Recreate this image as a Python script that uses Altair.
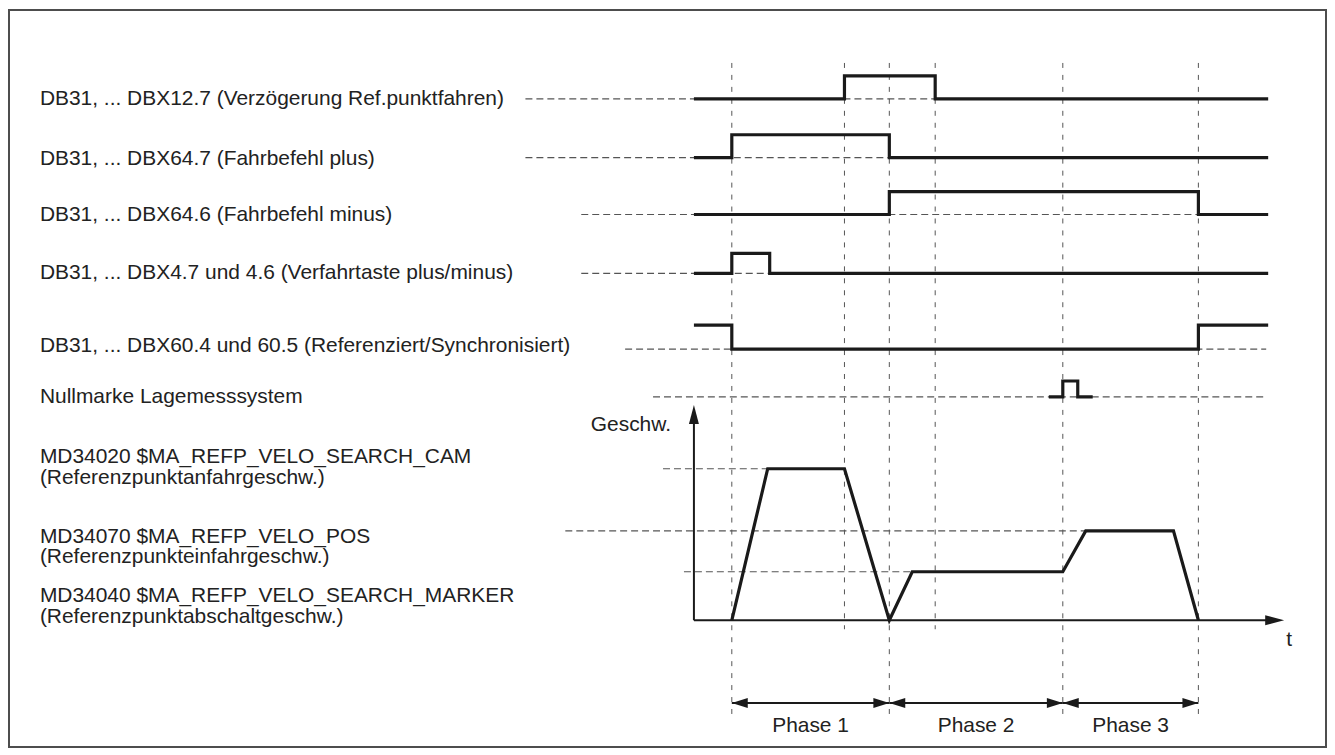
import altair as alt
import pandas as pd

# ---------------- data ----------------
# time axis (arbitrary units, t = 0 where the signal traces begin)
event_times = [38, 151, 196, 242, 370, 506]          # dashed vertical markers
event_long = [True, False, True, False, True, True]  # reaches down to phase arrows
t_end = 576

signal_labels = [
    "DB31, ... DBX12.7 (Verzögerung Ref.punktfahren)",
    "DB31, ... DBX64.7 (Fahrbefehl plus)",
    "DB31, ... DBX64.6 (Fahrbefehl minus)",
    "DB31, ... DBX4.7 und 4.6 (Verfahrtaste plus/minus)",
    "DB31, ... DBX60.4 und 60.5 (Referenziert/Synchronisiert)",
    "Nullmarke Lagemesssystem",
]
signal_times = [
    [0, 151, 242, 576],
    [0, 38, 196, 576],
    [0, 196, 506, 576],
    [0, 38, 76, 576],
    [0, 38, 506, 576],
    [356, 370, 385, 400],
]
signal_states = [
    [0, 1, 0, 0],
    [0, 1, 0, 0],
    [0, 1, 0, 0],
    [0, 1, 0, 0],
    [1, 0, 1, 1],
    [0, 1, 0, 0],
]

# velocity profile (units: CAM speed = 100)
vel_times = [38, 74, 151, 196, 219, 370, 393, 481, 506]
vel_values = [0, 100, 100, 0, 32, 32, 59, 59, 0]
vel_levels = [100, 59, 32]
vel_labels = ["MD34020 $MA_REFP_VELO_SEARCH_CAM\n(Referenzpunktanfahrgeschw.)",
              "MD34070 $MA_REFP_VELO_POS\n(Referenzpunkteinfahrgeschw.)",
              "MD34040 $MA_REFP_VELO_SEARCH_MARKER\n(Referenzpunktabschaltgeschw.)"]

phase_names = ["Phase 1", "Phase 2", "Phase 3"]
phase_bounds = [38, 196, 370, 506]

# ---------------- layout (pixels of the reference) ----------------
LEFT, TOP, RIGHT, BOTTOM = 9, 9, 1330, 748
T0_PX = 696
W, H = RIGHT - LEFT, BOTTOM - TOP
FS = 21
FONT = "Liberation Sans"
INK = "#1a1a1a"
TXT = "#222222"
DASH = "#555555"

lane_low = [98, 157, 214, 273, 349, 397]
lane_amp = [23, 23, 23, 20, 24, 16]
label_y = [98, 158, 215, 273, 346, 397]
dash_from_t = [-169, -169, -113, -113, -69, -41]
dash_to_t = 574
label_t = 40 - T0_PX

vel_zero_row = 621
vel_px = 1.52
vel_ref_from_t = [-31, -129, -10]
vel_label_top = [446, 526, 586]
vel_axis_top = 142
t_axis_tip = 592

XS = alt.Scale(domain=[LEFT - T0_PX, RIGHT - T0_PX], nice=False, zero=False)
RS = alt.Scale(domain=[TOP, BOTTOM], reverse=True, nice=False, zero=False)
d0 = (vel_zero_row - BOTTOM) / vel_px
VS = alt.Scale(domain=[d0, d0 + H / vel_px], nice=False, zero=False)


def X(f="t"):
    return alt.X(f"{f}:Q", scale=XS, axis=None)


def YR(f="y"):
    return alt.Y(f"{f}:Q", scale=RS, axis=None)


def YV(f="v"):
    return alt.Y(f"{f}:Q", scale=VS, axis=None)


# ---- tables ----
sig_rows = []
for i, (ts, ss) in enumerate(zip(signal_times, signal_states)):
    for t, s in zip(ts, ss):
        sig_rows.append({"sig": i, "t": t, "y": lane_low[i] - s * lane_amp[i]})
sig_df = pd.DataFrame(sig_rows)

base_df = pd.DataFrame({"t": dash_from_t, "t2": [dash_to_t] * 6, "y": lane_low})
lab_df = pd.DataFrame({"t": [label_t] * 6, "y": label_y, "text": signal_labels})

ev_df = pd.DataFrame({"t": event_times, "y": [62] * 6,
                      "y2": [718 if l else 630 for l in event_long]})

vel_df = pd.DataFrame({"t": vel_times, "v": vel_values})
reach = []
for lv in vel_levels:
    reach.append(next(t for t, v in zip(vel_times, vel_values) if v == lv))
vref_df = pd.DataFrame({"t": vel_ref_from_t, "t2": reach, "v": vel_levels})

vlab_df = pd.DataFrame({"t": [label_t] * 3, "y": vel_label_top, "text": vel_labels})

# ---- layers ----
ev_layer = alt.Chart(ev_df).mark_rule(color=DASH, strokeWidth=1, strokeDash=[5, 7]).encode(
    x=X(), y=YR(), y2="y2:Q")

base_layer = alt.Chart(base_df).mark_rule(color=DASH, strokeWidth=1.2, strokeDash=[7, 4]).encode(
    x=X(), x2="t2:Q", y=YR())

sig_layer = alt.Chart(sig_df).mark_line(
    color=INK, strokeWidth=3.2, interpolate="step-after", strokeJoin="miter", strokeCap="butt"
).encode(x=X(), y=YR(), detail="sig:N", order="t:Q")

lab_layer = alt.Chart(lab_df).mark_text(
    align="left", baseline="middle", font=FONT, fontSize=FS, color=TXT
).encode(x=X(), y=YR(), text="text:N")

vlab_layer = alt.Chart(vlab_df).mark_text(
    align="left", baseline="top", font=FONT, fontSize=FS, color=TXT,
    lineBreak="\n", lineHeight=21
).encode(x=X(), y=YR(), text="text:N")

vref_layer = alt.Chart(vref_df).mark_rule(color=DASH, strokeWidth=1.2, strokeDash=[7, 4]).encode(
    x=X(), x2="t2:Q", y=YV())

vaxis_layer = alt.Chart(pd.DataFrame({"t": [0], "v": [0], "v2": [vel_axis_top - 8]})).mark_rule(
    color=INK, strokeWidth=2).encode(x=X(), y=YV(), y2="v2:Q")

haxis_layer = alt.Chart(pd.DataFrame({"t": [0], "t2": [t_axis_tip - 10], "v": [0]})).mark_rule(
    color=INK, strokeWidth=2).encode(x=X(), x2="t2:Q", y=YV())

up_head = alt.Chart(pd.DataFrame({"t": [0], "v": [vel_axis_top]})).mark_point(
    shape="M0,0L0.5,1.9L-0.5,1.9Z", size=400, filled=True, color=INK, opacity=1
).encode(x=X(), y=YV())

right_head = alt.Chart(pd.DataFrame({"t": [t_axis_tip], "v": [0]})).mark_point(
    shape="M0,0L-1.9,-0.5L-1.9,0.5Z", size=400, filled=True, color=INK, opacity=1
).encode(x=X(), y=YV())

vel_layer = alt.Chart(vel_df).mark_line(
    color=INK, strokeWidth=3.2, strokeJoin="miter", strokeCap="butt"
).encode(x=X(), y=YV(), order="t:Q")

geschw = alt.Chart(pd.DataFrame({"t": [-23], "y": [425], "text": ["Geschw."]})).mark_text(
    align="right", baseline="middle", font=FONT, fontSize=FS, color=TXT
).encode(x=X(), y=YR(), text="text:N")

tlabel = alt.Chart(pd.DataFrame({"t": [597], "y": [641], "text": ["t"]})).mark_text(
    align="center", baseline="middle", font=FONT, fontSize=FS, color=TXT
).encode(x=X(), y=YR(), text="text:N")

PH_Y = 704
ph_df = pd.DataFrame({"t": phase_bounds[:-1], "t2": phase_bounds[1:], "y": [PH_Y] * 3,
                      "tm": [(a + b) / 2 for a, b in zip(phase_bounds[:-1], phase_bounds[1:])],
                      "name": phase_names, "ly": [727] * 3})
ph_rule = alt.Chart(ph_df).mark_rule(color=INK, strokeWidth=2).encode(x=X(), x2="t2:Q", y=YR())
ph_left = alt.Chart(ph_df).mark_point(
    shape="M0,0L1.6,-0.5L1.6,0.5Z", size=400, filled=True, color=INK, opacity=1
).encode(x=X(), y=YR())
ph_right = alt.Chart(ph_df).mark_point(
    shape="M0,0L-1.6,-0.5L-1.6,0.5Z", size=400, filled=True, color=INK, opacity=1
).encode(x=X("t2"), y=YR())
ph_text = alt.Chart(ph_df).mark_text(
    align="center", baseline="middle", font=FONT, fontSize=FS, color=TXT
).encode(x=X("tm"), y=YR("ly"), text="name:N")

chart = alt.layer(
    ev_layer, base_layer, vref_layer, sig_layer, lab_layer, vlab_layer,
    vaxis_layer, haxis_layer, up_head, right_head, vel_layer,
    geschw, tlabel, ph_rule, ph_left, ph_right, ph_text,
).resolve_scale(y="independent").properties(
    width=W, height=H, padding=1, autosize=alt.AutoSizeParams(type="none"),
    background="white",
).configure_view(stroke="#4d4d4d", strokeWidth=2)

chart.save("out.html", embed_options={"renderer": "svg", "actions": False})
